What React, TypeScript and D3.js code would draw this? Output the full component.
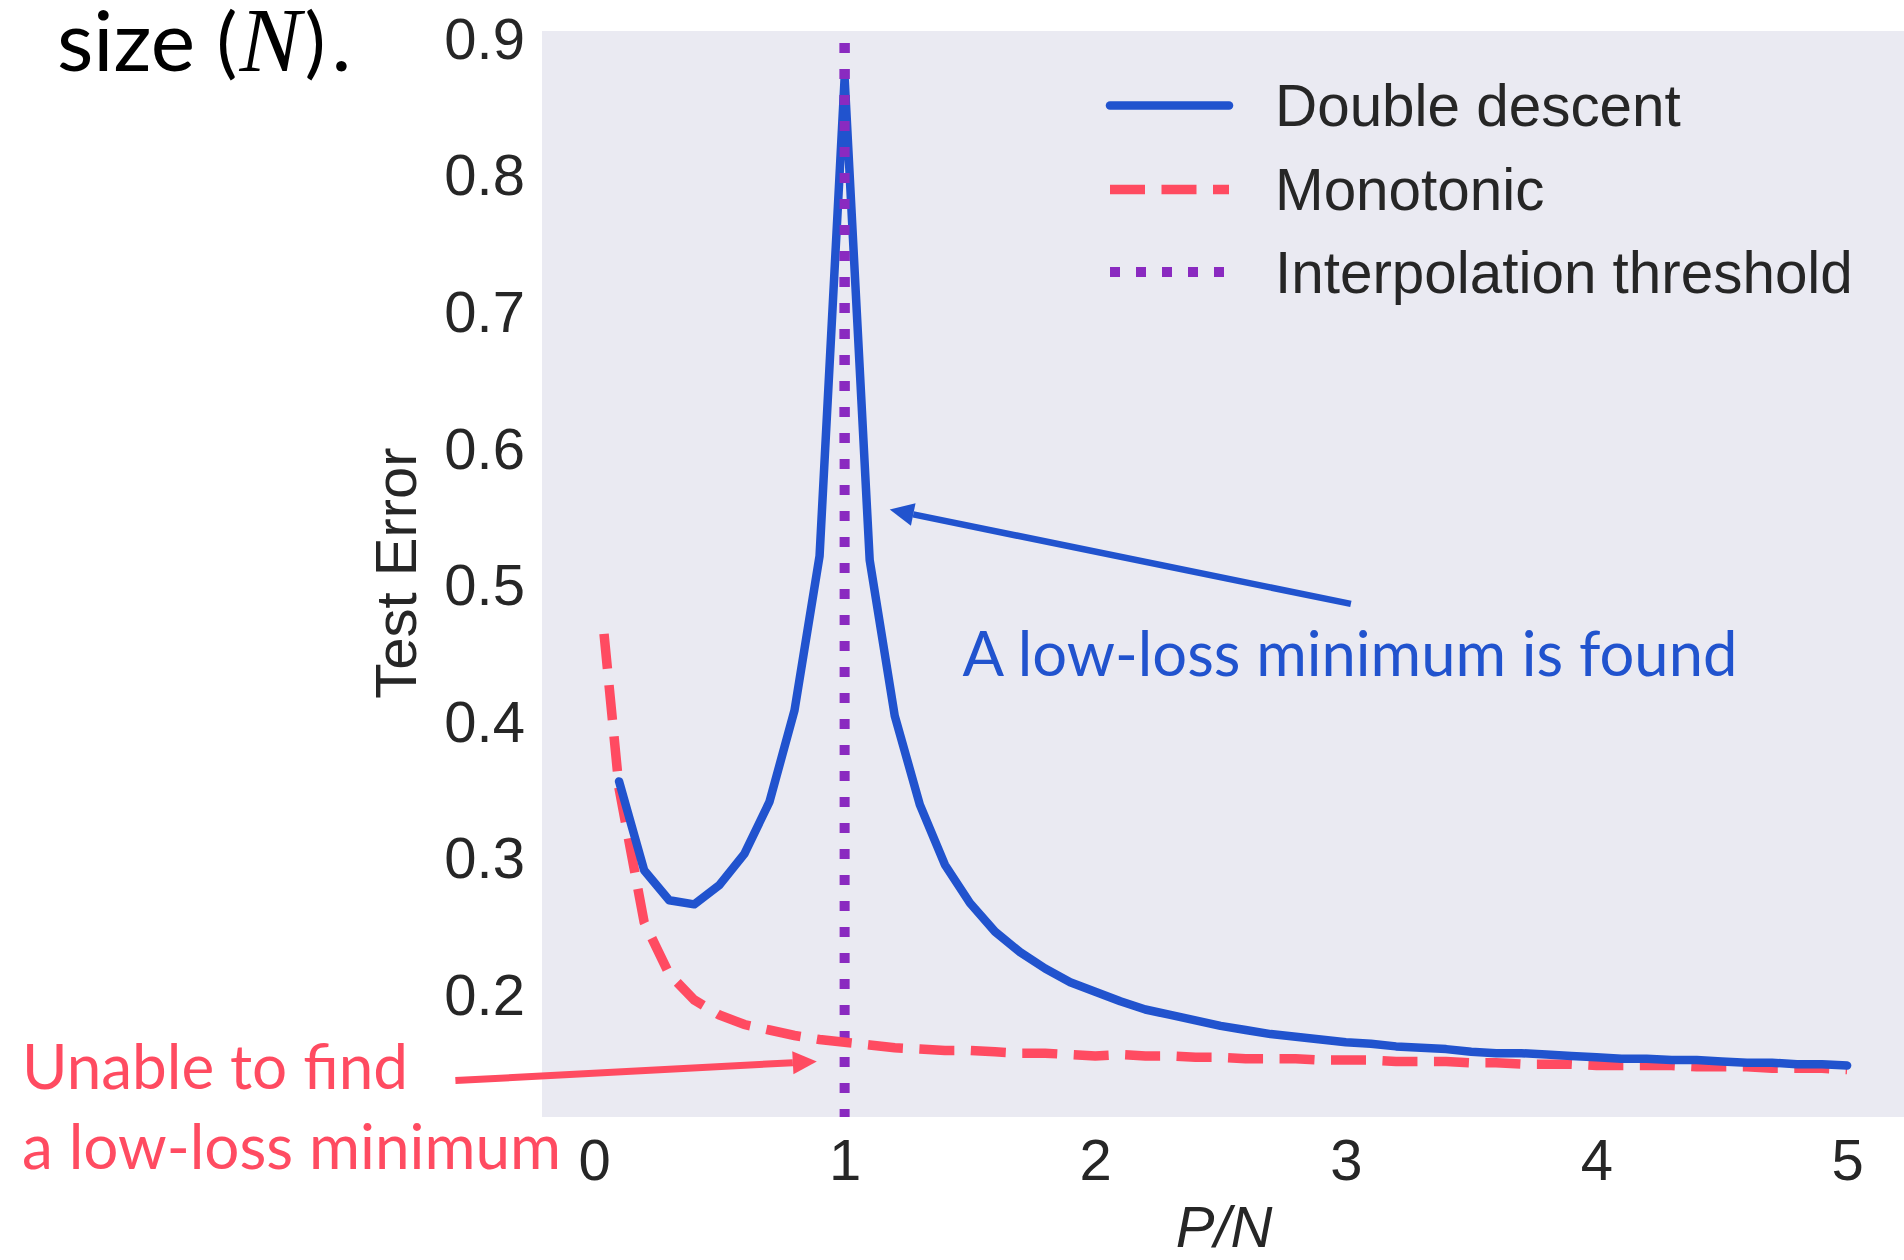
import React, { useEffect, useRef } from 'react';
import * as d3 from 'd3';

// P/N grid and test error
const ddX = [0.1, 0.2, 0.3, 0.4, 0.5, 0.6, 0.7, 0.8, 0.9, 1.0,
  1.1, 1.2, 1.3, 1.4, 1.5, 1.6, 1.7, 1.8, 1.9, 2.0,
  2.1, 2.2, 2.3, 2.4, 2.5, 2.6, 2.7, 2.8, 2.9, 3.0,
  3.1, 3.2, 3.3, 3.4, 3.5, 3.6, 3.7, 3.8, 3.9, 4.0,
  4.1, 4.2, 4.3, 4.4, 4.5, 4.6, 4.7, 4.8, 4.9, 5.0];
const ddY = [0.357, 0.292, 0.270, 0.267, 0.281, 0.304, 0.342, 0.409, 0.522, 0.872,
  0.519, 0.405, 0.340, 0.296, 0.268, 0.247, 0.232, 0.220, 0.210, 0.203,
  0.196, 0.190, 0.186, 0.182, 0.178, 0.175, 0.172, 0.170, 0.168, 0.166,
  0.165, 0.163, 0.162, 0.161, 0.159, 0.158, 0.158, 0.157, 0.156, 0.155,
  0.154, 0.154, 0.153, 0.153, 0.152, 0.151, 0.151, 0.150, 0.150, 0.149];

const monoX = [0.04, 0.1, 0.2, 0.3, 0.4, 0.5, 0.6, 0.7, 0.8, 0.9, 1.0,
  1.1, 1.2, 1.3, 1.4, 1.5, 1.6, 1.7, 1.8, 1.9, 2.0,
  2.1, 2.2, 2.3, 2.4, 2.5, 2.6, 2.7, 2.8, 2.9, 3.0,
  3.1, 3.2, 3.3, 3.4, 3.5, 3.6, 3.7, 3.8, 3.9, 4.0,
  4.1, 4.2, 4.3, 4.4, 4.5, 4.6, 4.7, 4.8, 4.9, 5.0];
const monoY = [0.465, 0.352, 0.254, 0.216, 0.197, 0.186, 0.179, 0.175, 0.171, 0.168, 0.166,
  0.164, 0.162, 0.161, 0.160, 0.160, 0.159, 0.158, 0.158, 0.157, 0.156,
  0.157, 0.156, 0.156, 0.155, 0.155, 0.154, 0.154, 0.154, 0.153, 0.153,
  0.153, 0.152, 0.152, 0.152, 0.151, 0.151, 0.150, 0.150, 0.150, 0.149,
  0.149, 0.149, 0.149, 0.148, 0.148, 0.148, 0.147, 0.147, 0.147, 0.146];

const thresholdX = 1;
const xTicks = [0, 1, 2, 3, 4, 5];
const yTicks = [0.2, 0.3, 0.4, 0.5, 0.6, 0.7, 0.8, 0.9];
const legendLabels = ['Double descent', 'Monotonic', 'Interpolation threshold'];

const BLUE = '#2153ce';
const RED = '#ff4b61';
const PURPLE = '#8a2ac0';
const INK = '#262626';
const SANS = '"Liberation Sans", Arial, sans-serif';
const NOTE = 'Lato, "Open Sans", sans-serif';

const App = () => {
  const ref = useRef(null);

  useEffect(() => {
    const svg = d3.select(ref.current);
    svg.selectAll('*').remove();

    const W = 1904, H = 1260;
    const plot = { left: 542, top: 31, right: 1904, bottom: 1117 };

    const x = d3.scaleLinear().domain([-0.2075, 5.227]).range([plot.left, plot.right]);
    const y = d3.scaleLinear().domain([0.1113, 0.9064]).range([plot.bottom, plot.top]);

    svg.append('rect')
      .attr('width', W).attr('height', H).attr('fill', '#ffffff');

    svg.append('rect')
      .attr('x', plot.left).attr('y', plot.top)
      .attr('width', plot.right - plot.left).attr('height', plot.bottom - plot.top)
      .attr('fill', '#eaeaf2');

    // axes (no lines, labels only)
    const yAxis = svg.append('g')
      .attr('transform', `translate(${plot.left},0)`)
      .call(d3.axisLeft(y).tickValues(yTicks).tickFormat(d3.format('.1f')).tickSize(0).tickPadding(17));
    yAxis.select('.domain').remove();
    yAxis.selectAll('text')
      .attr('font-family', SANS).attr('font-size', 58).attr('fill', INK);

    const xAxis = svg.append('g')
      .attr('transform', `translate(0,${plot.bottom})`)
      .call(d3.axisBottom(x).tickValues(xTicks).tickFormat(d3.format('d')).tickSize(0).tickPadding(22));
    xAxis.select('.domain').remove();
    xAxis.selectAll('text')
      .attr('font-family', SANS).attr('font-size', 58).attr('fill', INK);

    svg.append('text')
      .attr('transform', `translate(395,573) rotate(-90)`)
      .attr('text-anchor', 'middle').attr('dominant-baseline', 'central')
      .attr('font-family', SANS).attr('font-size', 58).attr('fill', INK)
      .text('Test Error');

    svg.append('text')
      .attr('x', 1224).attr('y', 1247)
      .attr('text-anchor', 'middle')
      .attr('font-family', SANS).attr('font-size', 58).attr('font-style', 'italic').attr('fill', INK)
      .text('P/N');

    const line = d3.line().x(d => x(d[0])).y(d => y(d[1]));

    // threshold
    svg.append('line')
      .attr('x1', x(thresholdX)).attr('x2', x(thresholdX))
      .attr('y1', plot.top).attr('y2', plot.bottom)
      .attr('stroke', PURPLE).attr('stroke-width', 10)
      .attr('stroke-dasharray', '10 16').attr('stroke-dashoffset', 14);

    svg.append('path')
      .datum(monoX.map((v, i) => [v, monoY[i]]))
      .attr('d', line)
      .attr('fill', 'none').attr('stroke', RED).attr('stroke-width', 9.5)
      .attr('stroke-dasharray', '35 16.5');

    svg.append('path')
      .datum(ddX.map((v, i) => [v, ddY[i]]))
      .attr('d', line)
      .attr('fill', 'none').attr('stroke', BLUE).attr('stroke-width', 8.5)
      .attr('stroke-linecap', 'round').attr('stroke-linejoin', 'round');

    // threshold drawn over the blue spike
    svg.append('line')
      .attr('x1', x(thresholdX)).attr('x2', x(thresholdX))
      .attr('y1', plot.top).attr('y2', y(0.6))
      .attr('stroke', PURPLE).attr('stroke-width', 10)
      .attr('stroke-dasharray', '10 16').attr('stroke-dashoffset', 14);

    // arrows
    const arrow = (x0, y0, x1, y1, color, lw) => {
      const ax = x(x0), ay = y(y0), bx = x(x1), by = y(y1);
      const ang = Math.atan2(by - ay, bx - ax);
      const len = 24, half = 11.5;
      const baseX = bx - len * Math.cos(ang), baseY = by - len * Math.sin(ang);
      svg.append('line')
        .attr('x1', ax).attr('y1', ay).attr('x2', baseX).attr('y2', baseY)
        .attr('stroke', color).attr('stroke-width', lw);
      const px = -Math.sin(ang), py = Math.cos(ang);
      svg.append('polygon')
        .attr('points', [
          [bx, by],
          [baseX + px * half, baseY + py * half],
          [baseX - px * half, baseY - py * half],
        ].map(p => p.join(',')).join(' '))
        .attr('fill', color);
    };
    arrow(3.02, 0.487, 1.18, 0.556, BLUE, 6.5);
    arrow(-0.553, 0.138, 0.889, 0.152, RED, 7);

    svg.append('text')
      .attr('x', x(1.47)).attr('y', y(0.434))
      .attr('font-family', NOTE).attr('font-size', 61.5).attr('fill', BLUE)
      .text('A low-loss minimum is found');

    const red = svg.append('text')
      .attr('font-family', NOTE).attr('font-size', 62).attr('fill', RED);
    red.append('tspan').attr('x', 22).attr('y', 1089).text('Unable to find');
    red.append('tspan').attr('x', 22).attr('y', 1169).text('a low-loss minimum');

    // legend
    const legend = svg.append('g');
    const rows = [105.6, 189.4, 272];
    const styles = [
      { c: BLUE, w: 8.5, dash: null, cap: 'round' },
      { c: RED, w: 9.5, dash: '35 16.5', cap: 'butt' },
      { c: PURPLE, w: 10, dash: '10 16', cap: 'butt' },
    ];
    legendLabels.forEach((lab, i) => {
      const s = styles[i];
      legend.append('line')
        .attr('x1', 1110).attr('x2', 1229).attr('y1', rows[i]).attr('y2', rows[i])
        .attr('stroke', s.c).attr('stroke-width', s.w)
        .attr('stroke-linecap', s.cap)
        .attr('stroke-dasharray', s.dash);
      legend.append('text')
        .attr('x', 1275).attr('y', rows[i])
        .attr('dominant-baseline', 'central')
        .attr('font-family', SANS).attr('font-size', 58.4).attr('fill', INK)
        .text(lab);
    });

    // caption fragment at top-left
    const cap = svg.append('text')
      .attr('x', 57).attr('y', 71)
      .attr('font-family', NOTE).attr('font-size', 84).attr('fill', '#000');
    cap.append('tspan').text('size ');
    cap.append('tspan').attr('font-size', 78).attr('dy', -2).text('(');
    cap.append('tspan').attr('dy', 2).attr('dx', 2).attr('font-family', '"Liberation Serif", serif')
      .attr('font-style', 'italic').attr('font-size', 92).text('N');
    cap.append('tspan').attr('font-size', 78).attr('dy', -2).attr('dx', 4).text(')');
    cap.append('tspan').attr('dy', 2).attr('dx', 6).text('.');
  }, []);

  return (
    <svg ref={ref} width={1904} height={1260}
      style={{ position: 'absolute', left: 0, top: 0, display: 'block' }}></svg>
  );
};

export default App;
